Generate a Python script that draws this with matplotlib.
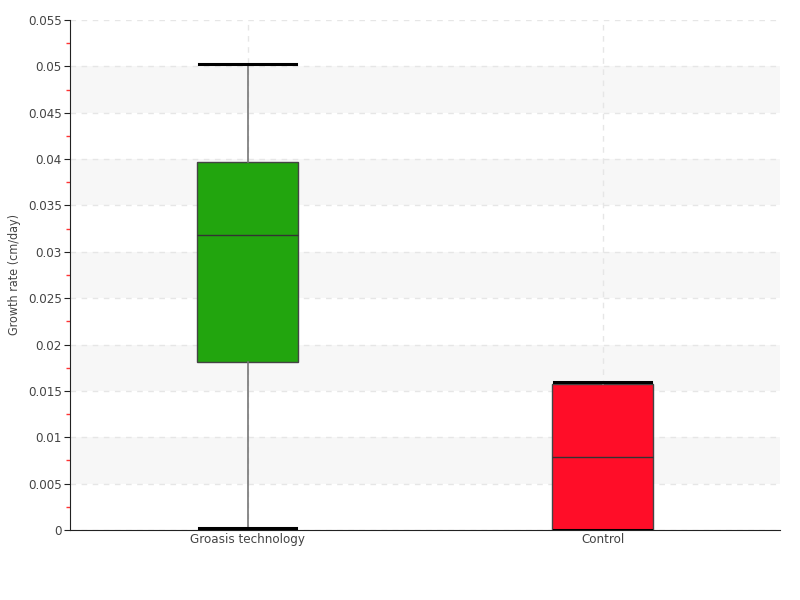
import matplotlib
matplotlib.use("Agg")
import matplotlib.pyplot as plt
from matplotlib.ticker import MultipleLocator, FuncFormatter

plt.rcParams['font.family'] = ['DejaVu Sans']
plt.rcParams['font.stretch'] = 'condensed'

categories = ['Groasis technology', 'Control']
whislo = [0.0002, 0.0]
q1 = [0.0181, 0.0]
med = [0.0318, 0.0079]
q3 = [0.0397, 0.01575]
whishi = [0.0503, 0.0160]
box_colors = ['#22a50e', '#ff0d28']

stats = []
for i, name in enumerate(categories):
    stats.append({'label': name, 'whislo': whislo[i], 'q1': q1[i], 'med': med[i],
                  'q3': q3[i], 'whishi': whishi[i], 'fliers': []})

fig = plt.figure(figsize=(8, 6), dpi=100)
ax = fig.add_axes([0.0875, 0.1167, 0.8875, 0.85])

# alternating bands
for lo in [0.005, 0.015, 0.025, 0.035, 0.045]:
    ax.axhspan(lo, lo + 0.005, color='#f7f7f7', zorder=0, lw=0)

pos = list(range(1, len(categories) + 1))
bp = ax.bxp(stats, positions=pos, widths=0.282, patch_artist=True,
            showfliers=False, zorder=3,
            boxprops=dict(edgecolor='#444444', linewidth=1.0),
            medianprops=dict(color='#333333', linewidth=1.0),
            whiskerprops=dict(color='#777777', linewidth=1.2),
            capprops=dict(color='black', linewidth=2.2),
            capwidths=0.272)
for patch, c in zip(bp['boxes'], box_colors):
    patch.set_facecolor(c)

ax.set_xlim(0.5, 2.5)
ax.set_ylim(0, 0.055)
ax.yaxis.set_major_locator(MultipleLocator(0.005))
ax.yaxis.set_minor_locator(MultipleLocator(0.0025))
ax.yaxis.set_major_formatter(FuncFormatter(lambda v, p: ('%.3f' % v).rstrip('0').rstrip('.') if v != 0 else '0'))
ax.grid(axis='y', which='major', color='#e6e6e6', linestyle=(0, (4, 4)), linewidth=1, zorder=1)
for x in pos:
    ax.axvline(x, color='#e6e6e6', linestyle=(0, (4, 4)), linewidth=1, zorder=1)
ax.set_axisbelow(True)

ax.spines['top'].set_visible(False)
ax.spines['right'].set_visible(False)
ax.spines['left'].set_color('#222222')
ax.spines['bottom'].set_color('#222222')
ax.tick_params(axis='y', which='major', length=4, color='#222222', labelcolor='#444444', labelsize=9.5, pad=2)
ax.tick_params(axis='y', which='minor', length=3, width=1, color='#ff3333')
ax.tick_params(axis='x', length=0, labelcolor='#444444', labelsize=9.5, pad=2)
ax.set_ylabel('Growth rate (cm/day)', color='#444444', fontsize=9, labelpad=5)

fig.savefig('out.png', dpi=100)
